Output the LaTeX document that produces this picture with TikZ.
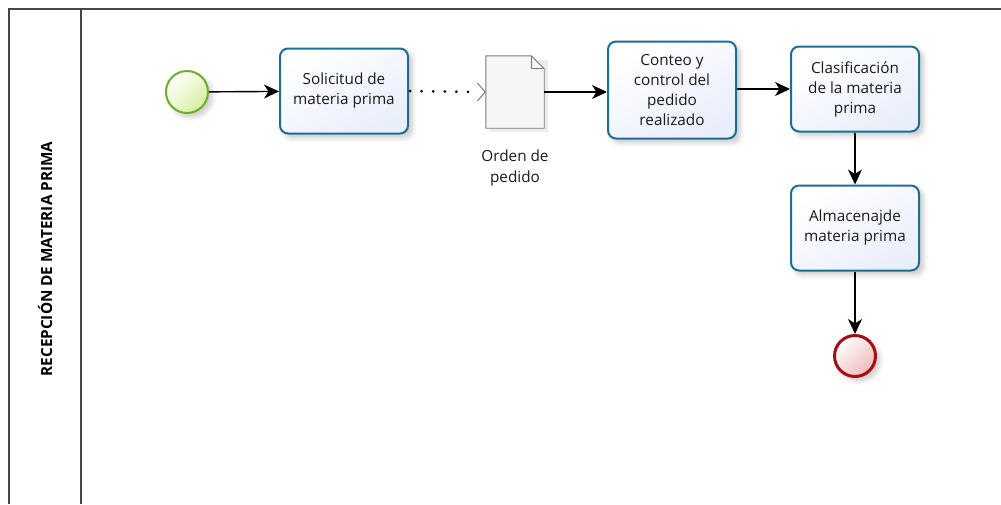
\documentclass[tikz,border=0pt]{standalone}
\usepackage{fontspec}
\setmainfont{Open Sans}
\usetikzlibrary{arrows.meta,shadows.blur}

\definecolor{poolline}{HTML}{454545}
\definecolor{taskline}{HTML}{1E6D96}
\definecolor{taskfill}{HTML}{E9EEFB}
\definecolor{startline}{HTML}{6CAF2E}
\definecolor{startfill}{HTML}{D6EFA0}
\definecolor{endline}{HTML}{A50F14}
\definecolor{endfill}{HTML}{EFB8BA}
\definecolor{docline}{HTML}{7A7A7A}
\definecolor{docfill}{HTML}{F6F6F6}
\definecolor{txt}{HTML}{1A1A1A}

\tikzset{
  softshadow/.style={blur shadow={shadow xshift=4pt, shadow yshift=-4pt,
      shadow blur radius=5pt, shadow opacity=22, shadow blur steps=8}},
  task/.style={draw=taskline, line width=2pt, rounded corners=8pt,
      top color=white, bottom color=taskfill, shading angle=30,
      minimum width=128pt, inner sep=2pt, align=center, text=txt,
      font=\fontsize{15.3}{20}\selectfont, softshadow},
  startevt/.style={circle, draw=startline, line width=2pt, minimum size=42pt,
      top color=white, bottom color=startfill, shading angle=45, softshadow},
  endevt/.style={circle, draw=endline, line width=3pt, minimum size=41pt,
      top color=white, bottom color=endfill, shading angle=45, softshadow},
  flow/.style={draw=black, line width=1.4pt,
      -{Stealth[length=15pt, width=14pt, inset=4.5pt]}},
  assoc/.style={draw=black, line width=3pt, line cap=round,
      dash pattern=on 0pt off 11.6pt},
  lanehead/.style={rotate=90, font=\fontsize{15.3}{18}\selectfont\bfseries, text=black},
  doclabel/.style={align=center, text=txt, font=\fontsize{15.3}{21}\selectfont},
}

\begin{document}
\begin{tikzpicture}[x=1pt, y=-1pt]
  \useasboundingbox (0,0) rectangle (1001,504);

  % pool and lane header
  \draw[poolline, line width=1.5pt] (9,504) -- (9,9) -- (1001,9);
  \draw[poolline, line width=1.5pt] (81,9) -- (81,504);
  \node[lanehead] (lane) at (45,259) {RECEPCIÓN DE MATERIA PRIMA};

  % events and tasks
  \node[startevt] (start) at (187,92) {};
  \node[task, minimum height=85pt] (t1) at (344,91) {Solicitud de\\materia prima};
  \node[task, minimum height=97pt] (t2) at (672,90) {Conteo y\\control del\\pedido\\realizado};
  \node[task, minimum height=85pt] (t3) at (855,89) {Clasificación\\de la materia\\prima};
  \node[task, minimum height=85pt] (t4) at (855,228) {Almacenajde\\materia prima};
  \node[endevt] (end) at (855,356) {};

  % data object with folded corner
  \node[minimum width=58pt, minimum height=72pt, inner sep=0pt] (doc) at (515,92) {};
  \fill[black, opacity=0.08] ([xshift=4pt,yshift=-4pt]doc.north west) rectangle ([xshift=4pt,yshift=-4pt]doc.south east);
  \draw[draw=docline, fill=docfill, line width=0.9pt, line join=round]
    (doc.north west) -- ([xshift=-13pt]doc.north east) -- ([yshift=-13pt]doc.north east)
    -- (doc.south east) -- (doc.south west) -- cycle;
  \draw[draw=docline, line width=0.9pt, line join=round]
    ([xshift=-13pt]doc.north east) -- ([xshift=-13pt,yshift=-13pt]doc.north east)
    -- ([yshift=-13pt]doc.north east);
  \node[doclabel] (doctext) at (515,168) {Orden de\\pedido};

  % connectors
  \draw[flow] (start) -- (t1);
  \path[assoc] ([xshift=1pt]t1.east) -- ([xshift=-10pt]doc.west);
  \coordinate (tip) at ([xshift=-0.5pt]doc.west);
  \draw[docline, line width=1pt, line join=miter]
    ([xshift=-8pt,yshift=9pt]tip) -- (tip) -- ([xshift=-8pt,yshift=-9pt]tip);
  \draw[flow] (doc.east) -- (t2.west |- doc.east);
  \draw[flow] (t2.east |- t3.west) -- (t3.west);
  \draw[flow] (t3) -- (t4);
  \draw[flow] (t4) -- (end);
\end{tikzpicture}
\end{document}
